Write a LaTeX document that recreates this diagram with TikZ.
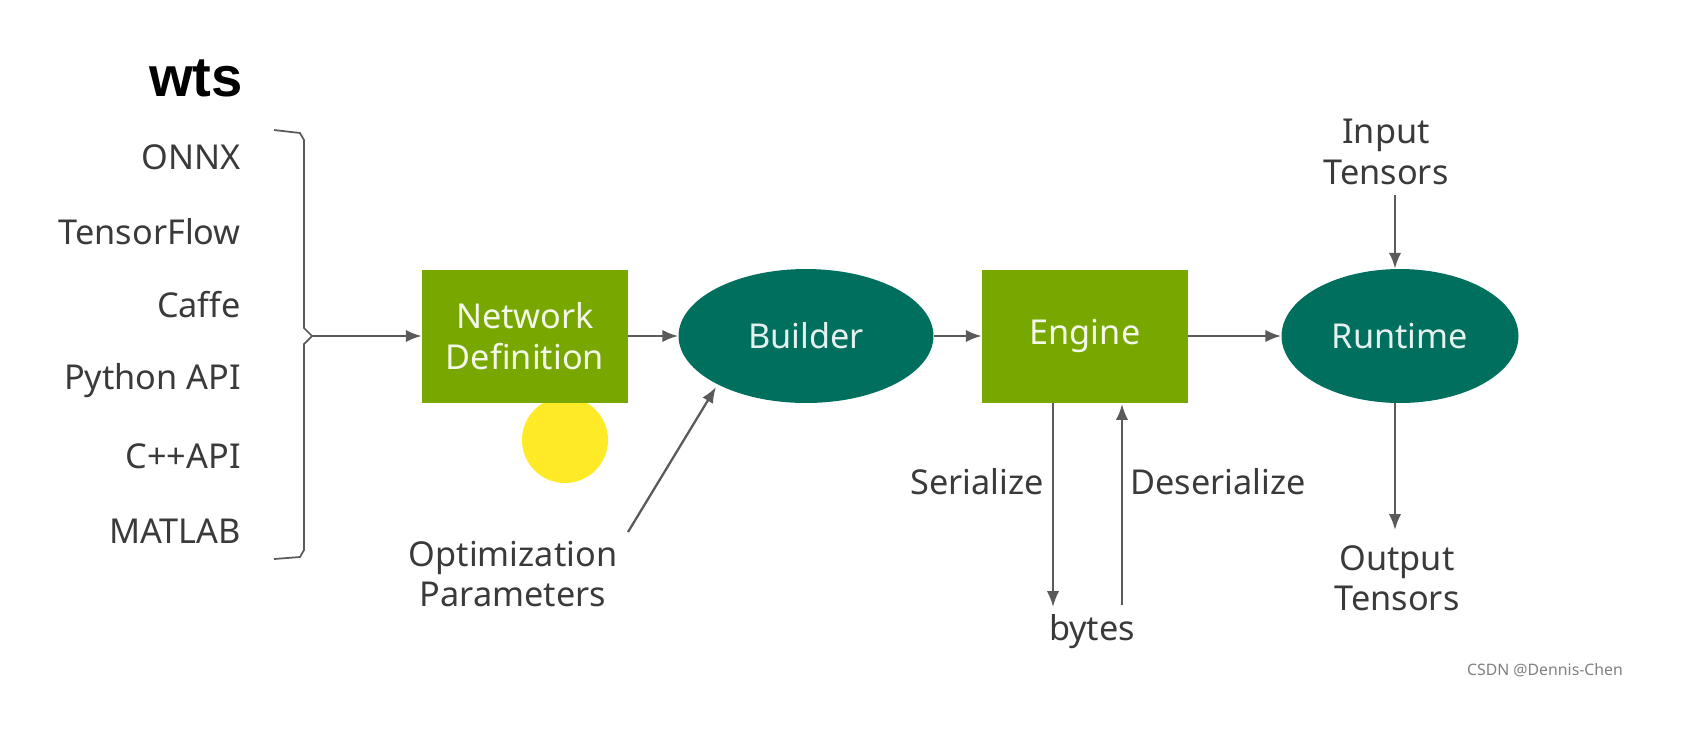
\documentclass[tikz,border=0pt]{standalone}
\usepackage{fontspec}
\setmainfont{Noto Sans}
\newfontfamily\wtsfont{Liberation Sans}
\usetikzlibrary{shapes.geometric,arrows.meta}
\definecolor{lg}{HTML}{78A800}
\definecolor{dg}{HTML}{006F5E}
\definecolor{tx}{HTML}{3A3A3A}
\definecolor{ln}{HTML}{5A5A5A}
\begin{document}
\begin{tikzpicture}[x=0.02cm,y=-0.02cm,
  lab/.style={font=\fontsize{19.5}{23}\selectfont, text=tx, align=center},
  src/.style={lab, anchor=east},
  box/.style={draw=none, fill=lg, minimum width=4.12cm, minimum height=2.66cm, text=white!92!lg, font=\fontsize{19.5}{23}\selectfont, align=center},
  ell/.style={ellipse, fill=dg, text=white!90!dg, font=\fontsize{19.5}{23}\selectfont},
  arr/.style={draw=ln, line width=1.3pt, -{Latex[length=9pt,width=7pt]}}]
\useasboundingbox (0,0) rectangle (1682,735);
\node[font=\wtsfont\bfseries\fontsize{32}{36}\selectfont, text=black] (wts) at (196,78) {wts};
\node[src] (onnx) at (247,157) {ONNX};
\node[src] (tf) at (247,232) {TensorFlow};
\node[src] (caffe) at (247,305) {Caffe};
\node[src] (py) at (247,381) {Python API};
\node[src] (cpp) at (247,456) {C++API};
\node[src] (mat) at (247,531) {MATLAB};
\draw[ln, line width=1pt] (274,130) -- (300,133) -- (304,140) -- (304,328) -- (312,336) -- (304,344) -- (304,550) -- (300,557) -- (274,559);
\coordinate (br) at (312,336);
\fill[yellow!90!orange!85] (565,440) circle (43);
\node[box] (nd) at (525,336) {Network\\Definition};
\node[ell, minimum width=5.1cm, minimum height=2.68cm] (b) at (806,336) {Builder};
\node[box] (e) at (1085,336) {Engine};
\node[ell, minimum width=4.74cm, minimum height=2.68cm] (r) at (1400,336) {Runtime};
\node[lab] (in) at (1386,152) {Input\\Tensors};
\node[lab] (out) at (1397,578) {Output\\Tensors};
\node[lab] (opt) at (513,574) {Optimization\\Parameters};
\node[lab] (ser) at (977,482) {Serialize};
\node[lab] (des) at (1218,482) {Deserialize};
\node[lab] (bytes) at (1092,632) {bytes};
\node[font=\fontsize{9}{11}\selectfont, text=gray] (wm) at (1545,670) {CSDN @Dennis-Chen};
\draw[arr] (br) -- (nd.west);
\draw[arr] (nd.east) -- (b.west);
\draw[arr] (b.east) -- (e.west);
\draw[arr] (e.east) -- (r.west);
\draw[arr] (1395,195) -- (r.north -| 1395,0);
\draw[arr] (r.south -| 1395,0) -- (1395,530);
\draw[arr] (628,532) -- (716,387);
\coordinate (s1) at (1053,403); \coordinate (s2) at (1053,607);
\coordinate (d1) at (1122,605); \coordinate (d2) at (1122,404);
\draw[arr] (s1) -- (s2);
\draw[arr] (d1) -- (d2);
\end{tikzpicture}
\end{document}
